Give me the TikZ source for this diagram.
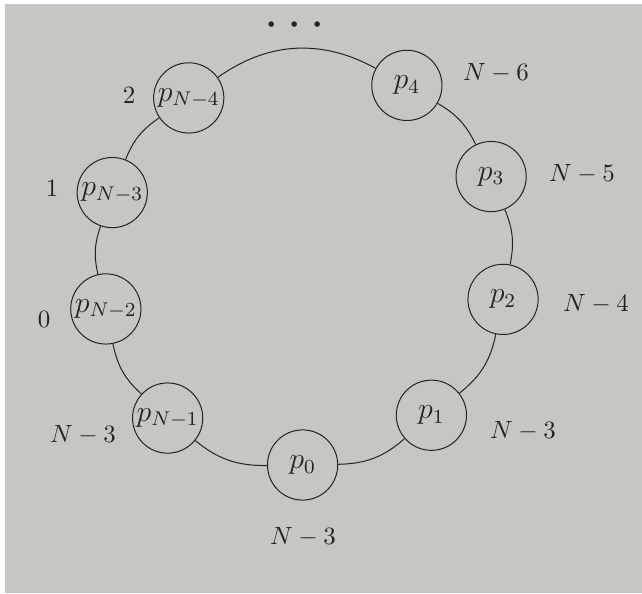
\documentclass[tikz,border=0pt]{standalone}
\definecolor{paper}{RGB}{199,198,194}
\definecolor{ink}{RGB}{35,35,35}
\begin{document}
\begin{tikzpicture}[x=0.0141cm, y=0.0141cm,
  proc/.style={draw=ink, circle, minimum size=0.99cm, inner sep=0pt, font=\large, text=ink},
  tag/.style={text=ink},
  ring/.style={draw=ink}]
  % Page background
  \fill[white] (0,0) rectangle (642,593);
  \fill[paper] (5,0) rectangle (642,589);
  \useasboundingbox (0,0) rectangle (642,593);

  % Processes placed round the ring
  \begin{scope}[shift={(304,328)}]
    \foreach \ang/\rad/\nm/\txt in {-90.4/200/p0/p_0, -49.7/197/p1/p_1, -9.8/202/p2/p_2,
        25.3/207/p3/p_3, 60.2/207/p4/p_4, 124.6/203/pn4/{p_{N-4}},
        159.3/205/pn3/{p_{N-3}}, 192.5/203/pn2/{p_{N-2}}, 228.3/205/pn1/{p_{N-1}}} {
      \node[proc] (\nm) at (\ang:\rad) {$\txt$};
    }
  \end{scope}

  % Ring connections
  \foreach \a/\b/\bend in {p0/p1/20, p1/p2/20, p2/p3/17, p3/p4/17, p4/pn4/32,
      pn4/pn3/17, pn3/pn2/16, pn2/pn1/18, pn1/p0/20} {
    \draw[ring] (\a) to[bend right=\bend] (\b);
  }

  % Values next to the processes
  \node[tag] (v4) at (496,520) {$N-6$};
  \node[tag] (v3) at (582,419) {$N-5$};
  \node[tag] (v2) at (596,289) {$N-4$};
  \node[tag] (v1) at (523,162) {$N-3$};
  \node[tag] (v0) at (303,56) {$N-3$};
  \node[tag] (vn1) at (83,158) {$N-3$};
  \node[tag] (vn2) at (44,274) {0};
  \node[tag] (vn3) at (52,405) {1};
  \node[tag] (vn4) at (129,498) {2};

  % Ellipsis above the ring
  \node[tag, anchor=base, font=\huge] (dots) at (295,556) {$\cdots$};
\end{tikzpicture}
\end{document}
